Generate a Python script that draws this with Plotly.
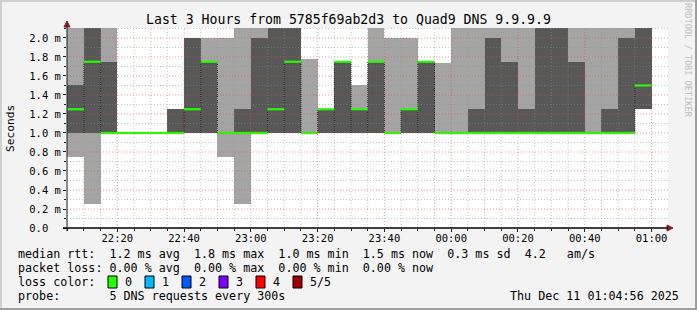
import plotly.graph_objects as go
import pandas as pd

# ---------------- data ----------------
times = [
    "2025-12-10 22:05", "2025-12-10 22:10", "2025-12-10 22:15", "2025-12-10 22:20",
    "2025-12-10 22:25", "2025-12-10 22:30", "2025-12-10 22:35", "2025-12-10 22:40",
    "2025-12-10 22:45", "2025-12-10 22:50", "2025-12-10 22:55", "2025-12-10 23:00",
    "2025-12-10 23:05", "2025-12-10 23:10", "2025-12-10 23:15", "2025-12-10 23:20",
    "2025-12-10 23:25", "2025-12-10 23:30", "2025-12-10 23:35", "2025-12-10 23:40",
    "2025-12-10 23:45", "2025-12-10 23:50", "2025-12-10 23:55", "2025-12-11 00:00",
    "2025-12-11 00:05", "2025-12-11 00:10", "2025-12-11 00:15", "2025-12-11 00:20",
    "2025-12-11 00:25", "2025-12-11 00:30", "2025-12-11 00:35", "2025-12-11 00:40",
    "2025-12-11 00:45", "2025-12-11 00:50", "2025-12-11 00:55",
]
# sorted ping RTTs per 5-minute step (ms); ping3 is the median
ping1 = [0.75, 0.25, 1.0, 1.0, 1.0, 1.0, 1.0, 1.0, 1.0, 0.75, 0.25, 1.0, 1.0, 1.0, 1.0, 1.0, 1.0, 1.0,
         1.0, 1.0, 1.0, 1.0, 1.0, 1.0, 1.0, 1.0, 1.0, 1.0, 1.0, 1.0, 1.0, 1.0, 1.0, 1.0, 1.25]
ping2 = [1.0, 1.0, 1.0, 1.0, 1.0, 1.0, 1.0, 1.0, 1.0, 1.0, 1.0, 1.0, 1.0, 1.0, 1.0, 1.0, 1.0, 1.0,
         1.0, 1.0, 1.0, 1.0, 1.0, 1.0, 1.0, 1.0, 1.0, 1.0, 1.0, 1.0, 1.0, 1.0, 1.0, 1.0, 1.25]
ping3 = [1.25, 1.75, 1.0, 1.0, 1.0, 1.0, 1.0, 1.25, 1.75, 1.0, 1.0, 1.0, 1.25, 1.75, 1.0, 1.25, 1.75, 1.25,
         1.75, 1.0, 1.25, 1.75, 1.0, 1.0, 1.0, 1.0, 1.0, 1.0, 1.0, 1.0, 1.0, 1.0, 1.0, 1.0, 1.5]
ping4 = [1.5, 2.3, 1.75, 1.0, 1.0, 1.0, 1.25, 2.0, 1.75, 1.0, 1.25, 2.0, 2.3, 2.3, 1.0, 1.25, 1.75, 1.25,
         1.75, 1.0, 1.25, 1.75, 1.0, 1.0, 1.25, 2.0, 1.75, 1.25, 2.3, 2.3, 1.75, 1.0, 1.25, 2.0, 2.3]
ping5 = [2.3, 2.5, 2.3, 1.0, 1.0, 1.0, 1.25, 2.0, 2.0, 2.0, 2.3, 2.3, 2.5, 2.5, 1.78, 1.25, 1.75, 1.5,
         2.3, 2.0, 2.0, 1.75, 1.74, 2.3, 2.3, 2.3, 2.3, 2.3, 2.5, 2.5, 2.3, 2.3, 2.3, 2.3, 2.5]

ytick_vals = [0.0, 0.2, 0.4, 0.6, 0.8, 1.0, 1.2, 1.4, 1.6, 1.8, 2.0]
ytick_text = ["0.0\u00a0\u00a0", "0.2 m", "0.4 m", "0.6 m", "0.8 m", "1.0 m",
              "1.2 m", "1.4 m", "1.6 m", "1.8 m", "2.0 m"]

title = "Last 3 Hours from 5785f69ab2d3 to Quad9 DNS 9.9.9.9"
legend_rows = [
    "median rtt:  1.2 ms avg  1.8 ms max  1.0 ms min  1.5 ms now  0.3 ms sd  4.2   am/s",
    "packet loss: 0.00 % avg  0.00 % max  0.00 % min  0.00 % now",
    "loss color:",
    "probe:       5 DNS requests every 300s",
]
loss_labels = ["0", "1", "2", "3", "4", "5/5"]
loss_colors = ["#26ff00", "#00b8ff", "#0059ff", "#7e00ff", "#ff0000", "#a10000"]
stamp = "Thu Dec 11 01:04:56 2025"

# ---------------- geometry ----------------
W, H = 697, 310
L, R, T, B = 67, 668, 28, 228
MONO = "DejaVu Sans Mono"


def px(x):
    return (x - L) / (R - L)


def py(y):
    return (B - y) / (B - T)


def nb(s):
    return s.replace(" ", "\u00a0")


t0 = pd.to_datetime(times)
t1 = t0 + pd.Timedelta(minutes=5)
fmt = "%Y-%m-%d %H:%M:%S"
STEP_MS = 300000

fig = go.Figure()

# outer smoke (min..max)
fig.add_bar(x=times, base=ping1, y=[b - a for a, b in zip(ping1, ping5)],
            offset=0, width=STEP_MS, marker=dict(color="#a4a4a4", line=dict(width=0)),
            hoverinfo="skip")
# inner smoke (2nd..4th)
fig.add_bar(x=times, base=ping2, y=[b - a for a, b in zip(ping2, ping4)],
            offset=0, width=STEP_MS, marker=dict(color="#585858", line=dict(width=0)),
            hoverinfo="skip")

# dotted black connectors where the median changes
cx, cy = [], []
for i in range(1, len(times)):
    if ping3[i] != ping3[i - 1]:
        cx += [t0[i].strftime(fmt), t0[i].strftime(fmt), None]
        cy += [min(ping2[i], ping2[i - 1]), max(ping3[i], ping3[i - 1]), None]
fig.add_scatter(x=cx, y=cy, mode="lines", line=dict(color="#202020", width=1, dash="1px,1px"),
                hoverinfo="skip")

# median (loss colour 0)
mx, my = [], []
for s, e, m in zip(t0, t1, ping3):
    mx += [s.strftime(fmt), e.strftime(fmt), None]
    my += [m, m, None]
fig.add_scatter(x=mx, y=my, mode="lines", line=dict(color="#26ff00", width=2.2), hoverinfo="skip")

# ---------------- grid above data (rrdtool style) ----------------
shapes = []
for tt in pd.date_range("2025-12-10 22:05", "2025-12-11 01:00", freq="5min"):
    major = tt.minute % 20 == 0
    shapes.append(dict(type="line", xref="x", yref="paper", x0=tt.strftime(fmt), x1=tt.strftime(fmt),
                       y0=0, y1=1, layer="above",
                       line=dict(color="rgba(222,79,79,0.55)" if major else "rgba(143,143,143,0.5)",
                                 width=1, dash="1px,2px")))
for k in range(1, 22):
    v = k / 10
    major = k % 2 == 0
    shapes.append(dict(type="line", xref="paper", yref="y", x0=0, x1=1, y0=v, y1=v, layer="above",
                       line=dict(color="rgba(222,79,79,0.55)" if major else "rgba(143,143,143,0.5)",
                                 width=1, dash="1px,2px")))

# arrows on axes
ARROW = "#801f1f"
shapes.append(dict(type="path", xref="paper", yref="paper", layer="above",
                   path=f"M {px(667)} {py(225)} L {px(673)} {py(228)} L {px(667)} {py(231)} Z",
                   fillcolor=ARROW, line=dict(color=ARROW, width=1)))
shapes.append(dict(type="path", xref="paper", yref="paper", layer="above",
                   path=f"M {px(64)} {py(27)} L {px(67)} {py(21)} L {px(70)} {py(27)} Z",
                   fillcolor=ARROW, line=dict(color=ARROW, width=1)))
# axis lines
shapes.append(dict(type="line", xref="paper", yref="paper", layer="above",
                   x0=px(63), x1=px(668), y0=0, y1=0, line=dict(color="#000000", width=1.5)))
shapes.append(dict(type="line", xref="paper", yref="paper", layer="above",
                   x0=0, x1=0, y0=py(231), y1=py(26), line=dict(color="#1f1f1f", width=1)))

# frame (3D border)
shapes.append(dict(type="line", xref="paper", yref="paper", x0=px(0), x1=px(697), y0=py(1), y1=py(1),
                   line=dict(color="#cfcfcf", width=2)))
shapes.append(dict(type="line", xref="paper", yref="paper", x0=px(1), x1=px(1), y0=py(0), y1=py(310),
                   line=dict(color="#cfcfcf", width=2)))
shapes.append(dict(type="line", xref="paper", yref="paper", x0=px(0), x1=px(697), y0=py(309), y1=py(309),
                   line=dict(color="#9e9e9e", width=2)))
shapes.append(dict(type="line", xref="paper", yref="paper", x0=px(696), x1=px(696), y0=py(0), y1=py(310),
                   line=dict(color="#9e9e9e", width=2)))

# loss colour swatches
box_x = [108 + 37 * i for i in range(len(loss_colors))]
for bx, col in zip(box_x, loss_colors):
    shapes.append(dict(type="rect", xref="paper", yref="paper",
                       x0=px(bx), x1=px(bx + 9), y0=py(288), y1=py(276),
                       fillcolor=col, line=dict(color="#000000", width=1)))

# ---------------- text ----------------
ann = []
ann.append(dict(text=nb(title), x=px(348), y=py(19), xref="paper", yref="paper",
                xanchor="center", yanchor="middle", showarrow=False,
                font=dict(family=MONO, size=13.2, color="#000000")))
ann.append(dict(text="Seconds", x=px(10), y=py(129), xref="paper", yref="paper", textangle=-90,
                xanchor="center", yanchor="middle", showarrow=False,
                font=dict(family=MONO, size=11.2, color="#000000")))
ann.append(dict(text=nb("RRDTOOL / TOBI OETIKER"), x=px(688), y=py(60), xref="paper", yref="paper",
                textangle=90, xanchor="center", yanchor="middle", showarrow=False,
                font=dict(family=MONO, size=8.6, color="#c0c0c0")))
row_y = [254, 268, 282, 296]
for txt, yy in zip(legend_rows, row_y):
    ann.append(dict(text=nb(txt), x=px(16), y=py(yy), xref="paper", yref="paper",
                    xanchor="left", yanchor="middle", showarrow=False,
                    font=dict(family=MONO, size=11.7, color="#000000")))
for bx, lab in zip(box_x, loss_labels):
    ann.append(dict(text=lab, x=px(bx + 15), y=py(282), xref="paper", yref="paper",
                    xanchor="left", yanchor="middle", showarrow=False,
                    font=dict(family=MONO, size=11.7, color="#000000")))
ann.append(dict(text=nb(stamp), x=px(681), y=py(296), xref="paper", yref="paper",
                xanchor="right", yanchor="middle", showarrow=False,
                font=dict(family=MONO, size=11.7, color="#000000")))

fig.update_layout(
    width=W, height=H,
    margin=dict(l=L, r=W - R, t=T, b=H - B, pad=0),
    paper_bgcolor="#f3f3f3", plot_bgcolor="#ffffff",
    barmode="overlay", bargap=0, showlegend=False,
    shapes=shapes, annotations=ann,
    xaxis=dict(type="date", range=["2025-12-10 22:04:56", "2025-12-11 01:04:56"],
               tickformat="%H:%M", tick0="2025-12-10 22:20", dtick=1200000,
               showgrid=False, zeroline=False, showline=False,
               ticks="outside", ticklen=3, tickcolor="#1f1f1f", ticklabelstandoff=-3,
               minor=dict(dtick=300000, tick0="2025-12-10 22:05", ticks="outside", ticklen=2,
                          tickcolor="#1f1f1f", showgrid=False),
               tickfont=dict(family=MONO, size=10.5, color="#000000"), fixedrange=True),
    yaxis=dict(range=[0, 2.105], tickvals=ytick_vals, ticktext=ytick_text,
               showgrid=False, zeroline=False, showline=False,
               ticks="outside", ticklen=3, tickcolor="#1f1f1f",
               minor=dict(dtick=0.1, ticks="outside", ticklen=2, tickcolor="#1f1f1f", showgrid=False),
               tickfont=dict(family=MONO, size=10.5, color="#000000"), fixedrange=True),
)

fig.write_html("out.html")
